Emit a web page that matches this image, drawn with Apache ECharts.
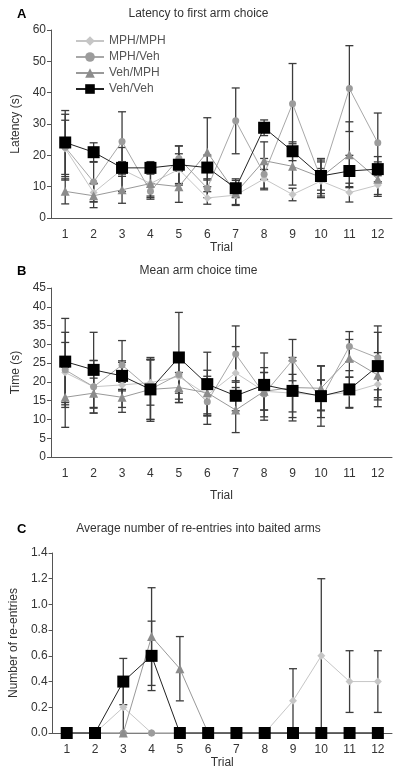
<!DOCTYPE html>
<html>
<head>
<meta charset="utf-8">
<script src="https://cdn.jsdelivr.net/npm/echarts@6/dist/echarts.min.js"></script>
<style>
  html, body { margin: 0; padding: 0; background: #fff; }
  #main { width: 397px; height: 770px; }
</style>
</head>
<body>
<div id="main"></div>
<script>
var trials = ["1", "2", "3", "4", "5", "6", "7", "8", "9", "10", "11", "12"];
var groups = ["MPH/MPH", "MPH/Veh", "Veh/MPH", "Veh/Veh"];

// A - latency to first arm choice (s)
var latMphMph = [22.2, 8.1, 15.5, 11, 15.5, 6.4, 7.3, 12.5, 7.5, 11.8, 8.1, 10.5];
var latMphVeh = [22.6, 11.5, 24.4, 8.5, 19, 9.5, 31, 14, 36.5, 12.5, 41.3, 24];
var latVehMph = [8.5, 7.1, 9, 11, 10, 21, 8, 18.3, 16.5, 13, 20.2, 12.4];
var latVehVeh = [24.1, 21, 16, 16, 17, 16.1, 9.5, 28.8, 21.3, 13.4, 15, 15.6];
var latMphMphErr = [9, 3, 7, 4, 5, 2, 3, 3, 2, 4, 3, 3];
var latMphVehErr = [10.5, 6.3, 9.5, 2.5, 4, 3, 10.5, 5, 12.8, 6, 13.7, 9.5];
var latVehMphErr = [4, 3.8, 4.3, 4.5, 5, 11, 4, 6, 6, 6, 10.5, 5.5];
var latVehVehErr = [10.2, 3, 2, 2, 6, 4, 3, 2.5, 3, 4.5, 5, 4];

// B - mean arm choice time (s)
var timeMphMph = [22.5, 18.7, 19.2, 19.8, 21.4, 16.5, 22.4, 17.5, 17, 16.5, 17.2, 19.4];
var timeMphVeh = [23.2, 18.7, 24.5, 18, 22, 14.7, 27.4, 16.8, 25.8, 15.5, 29.4, 26.4];
var timeVehMph = [15.9, 17, 15.9, 18, 18.5, 17.1, 12.5, 17.5, 18.5, 18.3, 26.3, 21.8];
var timeVehVeh = [25.4, 23.2, 21.6, 18, 26.5, 19.4, 16.3, 19.2, 17.6, 16.2, 18, 24.2];
var timeMphMphErr = [8, 7, 6, 6, 6, 5, 7, 5, 5, 4, 4, 6];
var timeMphVehErr = [10, 7, 6.5, 8.5, 5, 6, 7.5, 7, 5.5, 5, 4, 8.5];
var timeVehMphErr = [8, 4, 4, 8, 4, 6, 6, 5, 8, 6, 5, 6];
var timeVehVehErr = [11.5, 10, 4, 8, 12, 8.5, 4, 8.5, 8, 8, 5, 9];

// C - average number of re-entries
var reMphMph = [0, 0, 0.2, 0, 0, 0, 0, 0, 0.25, 0.6, 0.4, 0.4];
var reMphVeh = [0, 0, 0, 0, 0, 0, 0, 0, 0, 0, 0, 0];
var reVehMph = [0, 0, 0, 0.75, 0.5, 0, 0, 0, 0, 0, 0, 0];
var reVehVeh = [0, 0, 0.4, 0.6, 0, 0, 0, 0, 0, 0, 0, 0];
var reMphMphErr = [0, 0, 0.2, 0, 0, 0, 0, 0, 0.25, 0.6, 0.24, 0.24];
var reMphVehErr = [0, 0, 0, 0, 0, 0, 0, 0, 0, 0, 0, 0];
var reVehMphErr = [0, 0, 0, 0.38, 0.25, 0, 0, 0, 0, 0, 0, 0];
var reVehVehErr = [0, 0, 0.18, 0.27, 0, 0, 0, 0, 0, 0, 0, 0];

var styles = [
  { symbol: "diamond", size: 8, color: "#c6c6c6", line: "#c6c6c6" },
  { symbol: "circle", size: 7, color: "#9c9c9c", line: "#a8a8a8" },
  { symbol: "triangle", size: 9, color: "#8c8c8c", line: "#999999" },
  { symbol: "rect", size: 12, color: "#000000", line: "#222222" },
];

var font = "Liberation Sans, Arial, sans-serif";

function lineSeries(idx, g, data) {
  var s = styles[g];
  return {
    name: groups[g],
    type: "line",
    xAxisIndex: idx,
    yAxisIndex: idx,
    data: data,
    symbol: s.symbol,
    symbolSize: s.size,
    clip: false,
    z: 3 + g,
    itemStyle: { color: s.color },
    lineStyle: { color: s.line, width: 1 },
    emphasis: { disabled: true },
  };
}

function errSeries(idx, mean, err) {
  var d = [];
  mean.forEach(function (m, i) {
    if (err[i] > 0) d.push([i, Math.max(0, m - err[i]), m + err[i]]);
  });
  return {
    type: "custom",
    xAxisIndex: idx,
    yAxisIndex: idx,
    data: d,
    z: 2,
    silent: true,
    clip: false,
    encode: { x: 0, y: [1, 2] },
    renderItem: function (params, api) {
      var x = api.value(0);
      var lo = api.coord([x, api.value(1)]);
      var hi = api.coord([x, api.value(2)]);
      var w = 4;
      var st = { stroke: "#3c3c3c", lineWidth: 1.3 };
      return {
        type: "group",
        children: [
          { type: "line", shape: { x1: lo[0], y1: lo[1], x2: hi[0], y2: hi[1] }, style: st },
          { type: "line", shape: { x1: hi[0] - w, y1: hi[1], x2: hi[0] + w, y2: hi[1] }, style: st },
          { type: "line", shape: { x1: lo[0] - w, y1: lo[1], x2: lo[0] + w, y2: lo[1] }, style: st },
        ],
      };
    },
  };
}

function xAxis(idx, gap) {
  return {
    type: "category",
    gridIndex: idx,
    data: trials,
    name: "Trial",
    nameLocation: "middle",
    nameGap: gap,
    nameTextStyle: { fontFamily: font, fontSize: 12, color: "#333" },
    axisLine: { lineStyle: { color: "#555", width: 1 } },
    axisTick: { length: 4, lineStyle: { color: "#555" } },
    axisLabel: { margin: 11, fontFamily: font, fontSize: 12, color: "#333" },
  };
}

function yAxis(idx, name, max, step, dec, gap) {
  return {
    type: "value",
    gridIndex: idx,
    min: 0,
    max: max,
    interval: step,
    name: name,
    nameLocation: "middle",
    nameGap: gap,
    nameTextStyle: { fontFamily: font, fontSize: 12, color: "#333" },
    splitLine: { show: false },
    axisLine: { show: true, lineStyle: { color: "#555", width: 1 } },
    axisTick: { show: true, length: 4, lineStyle: { color: "#555" } },
    axisLabel: {
      margin: 5,
      fontFamily: font,
      fontSize: 12,
      color: "#333",
      formatter: function (v) {
        return dec ? v.toFixed(dec) : String(v);
      },
    },
  };
}

function titleText(text, top, bold, left) {
  return {
    text: text,
    left: left,
    top: top,
    textStyle: {
      fontFamily: font,
      fontSize: bold ? 13 : 12,
      fontWeight: bold ? "bold" : "normal",
      color: bold ? "#000" : "#333",
    },
  };
}

var option = {
  backgroundColor: "#fff",
  animation: false,
  title: [
    titleText("A", 3, true, 12),
    titleText("Latency to first arm choice", 3, false, "center"),
    titleText("B", 260, true, 12),
    titleText("Mean arm choice time", 260, false, "center"),
    titleText("C", 518, true, 12),
    titleText("Average number of re-entries into baited arms", 518, false, "center"),
  ],
  legend: {
    data: groups,
    orient: "vertical",
    left: 70,
    top: 30,
    itemWidth: 28,
    itemHeight: 12,
    itemGap: 4,
    textStyle: { fontFamily: font, fontSize: 12, color: "#555" },
  },
  grid: [
    { left: 51, right: 5, top: 30, height: 188 },
    { left: 51, right: 5, top: 288, height: 169 },
    { left: 51, right: 5, top: 553, height: 180 },
  ],
  xAxis: [xAxis(0, 22), xAxis(1, 33), xAxis(2, 20)],
  yAxis: [
    yAxis(0, "Latency (s)", 60, 10, 0, 27),
    yAxis(1, "Time (s)", 45, 5, 0, 27),
    yAxis(2, "Number of re-entries", 1.4, 0.2, 1, 26),
  ],
  series: [
    errSeries(0, latMphMph, latMphMphErr),
    errSeries(0, latMphVeh, latMphVehErr),
    errSeries(0, latVehMph, latVehMphErr),
    errSeries(0, latVehVeh, latVehVehErr),
    lineSeries(0, 0, latMphMph),
    lineSeries(0, 1, latMphVeh),
    lineSeries(0, 2, latVehMph),
    lineSeries(0, 3, latVehVeh),

    errSeries(1, timeMphMph, timeMphMphErr),
    errSeries(1, timeMphVeh, timeMphVehErr),
    errSeries(1, timeVehMph, timeVehMphErr),
    errSeries(1, timeVehVeh, timeVehVehErr),
    lineSeries(1, 0, timeMphMph),
    lineSeries(1, 1, timeMphVeh),
    lineSeries(1, 2, timeVehMph),
    lineSeries(1, 3, timeVehVeh),

    errSeries(2, reMphMph, reMphMphErr),
    errSeries(2, reMphVeh, reMphVehErr),
    errSeries(2, reVehMph, reVehMphErr),
    errSeries(2, reVehVeh, reVehVehErr),
    lineSeries(2, 0, reMphMph),
    lineSeries(2, 1, reMphVeh),
    lineSeries(2, 2, reVehMph),
    lineSeries(2, 3, reVehVeh),
  ],
};

var myChart = echarts.init(document.getElementById("main"), null, { renderer: "canvas" });
myChart.setOption(option);
</script>
</body>
</html>
